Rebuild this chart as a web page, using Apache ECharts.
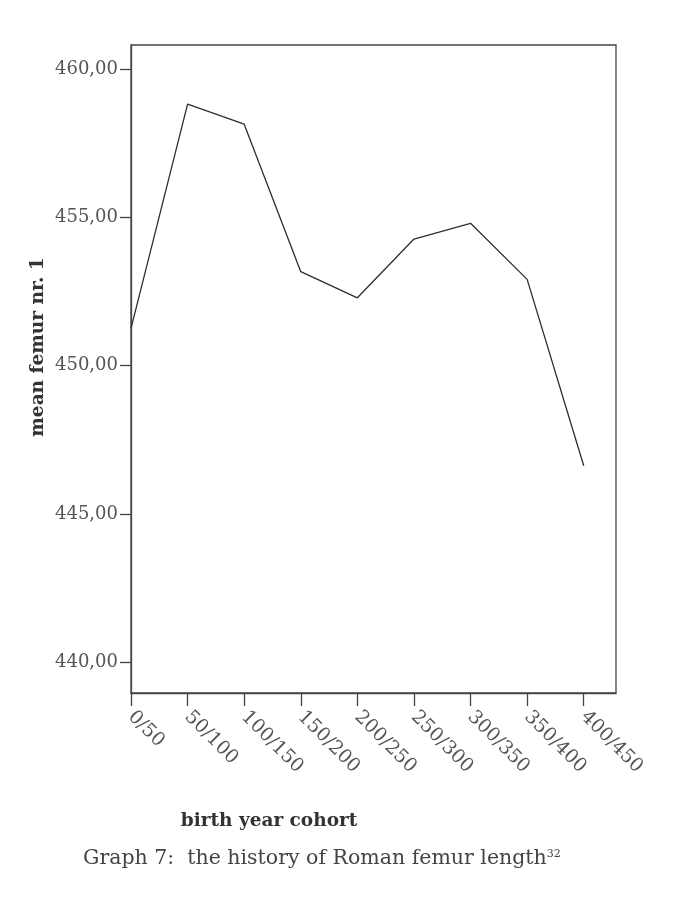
<!DOCTYPE html>
<html>
<head>
<meta charset="utf-8">
<script src="https://cdn.jsdelivr.net/npm/echarts@6/dist/echarts.min.js"></script>
<style>html,body{margin:0;padding:0;background:#fff;}#c{width:687px;height:906px;}</style>
</head>
<body>
<div id="c"></div>
<script>
const categories = ['0/50','50/100','100/150','150/200','200/250','250/300','300/350','350/400','400/450'];
const meanFemur = [451.26, 458.82, 458.14, 453.17, 452.29, 454.27, 454.80, 452.91, 446.63];
const yTicks = [440, 445, 450, 455, 460];

const FONT = '"DejaVu Serif", "Liberation Serif", serif';
const chart = echarts.init(document.getElementById('c'), null, {renderer: 'canvas'});
const xIdx = categories.map((c, i) => i);
chart.setOption({
  animation: false,
  backgroundColor: '#ffffff',
  grid: {left: 131, top: 45, width: 485, height: 648, show: true, borderColor: '#444', borderWidth: 1.3, backgroundColor: 'transparent'},
  xAxis: {
    type: 'value', min: 0, max: 8.57,
    axisLine: {show: true, lineStyle: {color: '#444', width: 1.3}},
    axisTick: {show: true, customValues: xIdx, length: 13, inside: false, lineStyle: {color: '#444', width: 1.3}},
    axisLabel: {customValues: xIdx, rotate: -45, margin: 21, color: '#555', fontFamily: FONT, fontSize: 19,
      formatter: v => categories[Math.round(v)]},
    splitLine: {show: false}
  },
  yAxis: {
    type: 'value', min: 438.97, max: 460.81,
    axisLine: {show: true, lineStyle: {color: '#444', width: 1.3}},
    axisTick: {show: true, customValues: yTicks, length: 11, lineStyle: {color: '#444', width: 1.3}},
    axisLabel: {customValues: yTicks, margin: 13, color: '#555', fontFamily: FONT, fontSize: 18,
      formatter: v => v.toFixed(2).replace('.', ',')},
    splitLine: {show: false}
  },
  series: [{
    type: 'line',
    data: meanFemur.map((v, i) => [i, v]),
    showSymbol: false,
    lineStyle: {color: '#2e2e2e', width: 1.3},
    silent: true
  }],
  graphic: [
    {type: 'text', x: 38, y: 347, rotation: Math.PI / 2,
      style: {text: 'mean femur nr. 1', fill: '#333', font: 'bold 18.5px ' + FONT, align: 'center', verticalAlign: 'middle'}},
    {type: 'text', x: 269, y: 821,
      style: {text: 'birth year cohort', fill: '#333', font: 'bold 18.5px ' + FONT, align: 'center', verticalAlign: 'middle'}},
    {type: 'text', x: 83, y: 859,
      style: {text: '{m|Graph 7:  the history of Roman femur length}{s|32}', align: 'left', verticalAlign: 'middle',
        rich: {m: {fill: '#444', font: '20.5px ' + FONT}, s: {fill: '#444', font: '11px ' + FONT, verticalAlign: 'top', padding: [0,0,10,0]}}}}
  ]
});
</script>
</body>
</html>
